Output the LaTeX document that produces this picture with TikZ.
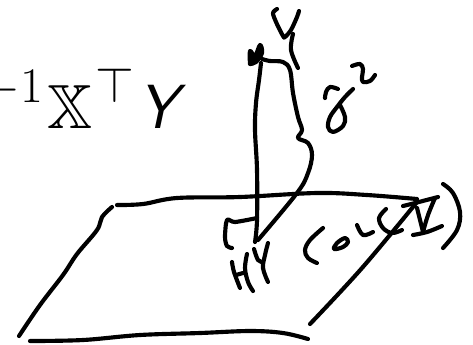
\documentclass[tikz,border=0pt]{standalone}
\usepackage{amsmath,amssymb,amsfonts}
\usepackage{xcolor}
\usepackage{tikz}

\begin{document}
\begin{tikzpicture}[
		x=0.75pt, y=-0.75pt,
		ink/.style={line width=3.1pt, line cap=round, line join=round},
		formula/.style={anchor=base west, inner sep=0pt, scale=1.88, font=\Huge},
		formulasup/.style={anchor=base west, inner sep=0pt, scale=1.5, font=\Huge}
		]
		\useasboundingbox (0,0) rectangle (473,344);
		\node[formulasup] (inv) at (-19,102) {$-1$};
		\node[formula] (xmat) at (47,128) {$\mathbb{X}$};
		\node[formulasup] (trans) at (95,102) {$\top$};
		\node[formula] (resp) at (138,128) {\textsf{\slshape Y}};
		% plane
		\draw[ink] plot[smooth, tension=0.6] coordinates {(117,205) (143,204) (177,198) (240,197) (317,193) (367,195) (417,199)};
		\draw[ink] plot[smooth, tension=0.6] coordinates {(112,207) (102,217) (97,230) (77,254) (63,275) (40,305) (19,336)};
		\draw[ink] plot[smooth, tension=0.6] coordinates {(30,341) (83,340) (140,335) (200,333) (250,331) (283,333) (308,339)};
		\draw[ink] plot[smooth, tension=0.6] coordinates {(417,202) (362,268) (310,324)};
		% projection
		\draw[ink] plot[smooth, tension=0.6] coordinates {(261,63) (259,80) (256,103) (255,130) (257,170) (257,220) (255,242)};
		\draw[ink, fill=black] plot[smooth, tension=0.6] coordinates {(250,64) (250,51) (255,56) (260,45) (262,53) (256,62) (250,64)};
		\draw[ink] plot[smooth, tension=0.6] coordinates {(262,59) (270,61) (283,62) (290,70) (293,93) (298,117) (302,130) (298,138) (308,143) (312,155) (308,173) (297,193) (258,240)};
		\draw[ink] plot[smooth, tension=0.5] coordinates {(232,248) (227,246) (225,237) (227,220) (235,222) (257,218)};
		% y1
		\draw[ink] plot[smooth, tension=0.5] coordinates {(277,9) (273,13) (276,22) (283,36) (285,37) (291,30) (297,17) (299,11)};
		\draw[ink] plot[smooth, tension=0.6] coordinates {(293,34) (291,50) (298,68)};
		% sigma squared
		\draw[ink] plot[smooth, tension=0.6] coordinates {(325,98) (326,92) (330,87) (338,89)};
		\draw[ink] plot[smooth, tension=0.6] coordinates {(353,89) (345,97) (337,107) (330,117) (328,127) (333,132) (343,126) (345,117) (340,105)};
		\draw[ink] plot[smooth, tension=0.6] coordinates {(352,66) (360,64) (363,69) (362,77) (363,82) (370,81) (375,75)};
		% HY
		\draw[ink] plot[smooth, tension=0.6] coordinates {(232,262) (234,272) (240,288)};
		\draw[ink] plot[smooth, tension=0.6] coordinates {(236,275) (243,273)};
		\draw[ink] plot[smooth, tension=0.6] coordinates {(247,254) (245,268) (248,282) (253,291)};
		\draw[ink] plot[smooth, tension=0.6] coordinates {(254,249) (258,260) (263,262)};
		\draw[ink] plot[smooth, tension=0.6] coordinates {(268,243) (265,255) (263,268) (268,282)};
		% col(X)
		\draw[ink] plot[smooth, tension=0.6] coordinates {(323,228) (310,240) (305,250) (308,258) (317,263)};
		\draw[ink] plot[smooth cycle, tension=0.6] coordinates {(334,249) (337,243) (345,238) (348,242) (343,247)};
		\draw[ink] plot[smooth, tension=0.6] coordinates {(357,225) (363,235) (373,232)};
		\draw[ink] plot[smooth, tension=0.6] coordinates {(386,209) (379,218) (383,228) (392,233) (402,230)};
		\draw[ink] plot[smooth, tension=0.6] coordinates {(403,206) (415,203) (438,197)};
		\draw[ink] plot[smooth, tension=0.6] coordinates {(417,208) (423,232)};
		\draw[ink] plot[smooth, tension=0.6] coordinates {(435,198) (428,215) (423,232)};
		\draw[ink] plot[smooth, tension=0.6] coordinates {(413,235) (427,232) (442,226)};
		\draw[ink] plot[smooth, tension=0.6] coordinates {(443,184) (453,193) (460,212) (457,230) (443,248)};
	\end{tikzpicture}
\end{document}
